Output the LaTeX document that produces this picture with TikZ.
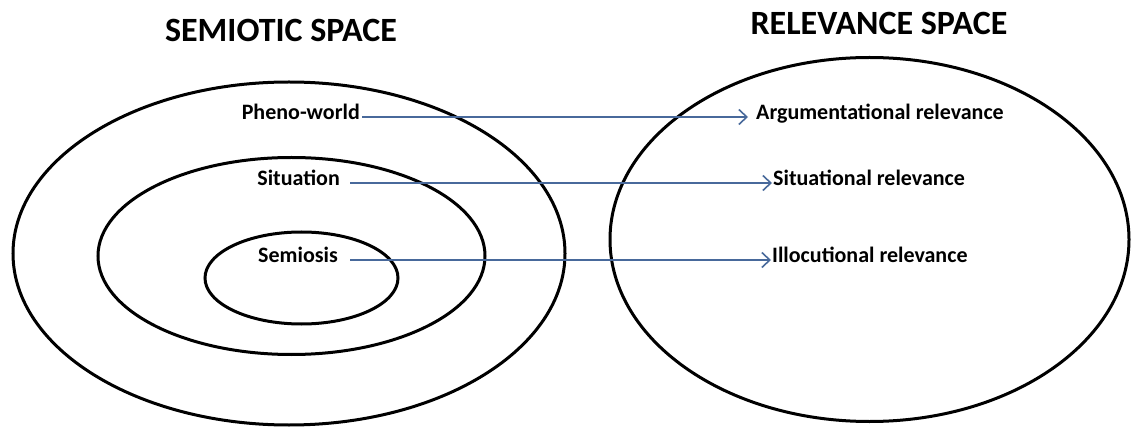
\documentclass[tikz,border=0pt]{standalone}
\usepackage{fontspec}
\setmainfont{Carlito}
\usetikzlibrary{arrows.meta,shapes.geometric}
\definecolor{arrowblue}{RGB}{72,105,155}
\tikzset{
  ring/.style={draw=black, line width=3pt, ellipse, inner sep=0pt, fill=none},
  lbl/.style={font=\fontsize{22}{26}\selectfont\bfseries, inner sep=0pt, text height=0.7em, text depth=0.2em},
  ttl/.style={font=\fontsize{34}{40}\selectfont\bfseries, inner sep=0pt},
  link/.style={draw=arrowblue, line width=1.6pt, -{Straight Barb[length=8pt,width=15pt]}}
}
\begin{document}
\begin{tikzpicture}[x=1pt,y=-1pt]
\useasboundingbox[fill=white] (0,0) rectangle (1132,430);
% titles
\node[ttl] (t1) at (281,30) {SEMIOTIC SPACE};
\node[ttl] (t2) at (879,23) {RELEVANCE SPACE};
% ellipses
\node[ring, minimum width=552pt, minimum height=343pt] (outer) at (289,253.5) {};
\node[ring, minimum width=387pt, minimum height=197pt] (middle) at (291.5,256) {};
\node[ring, minimum width=193pt, minimum height=92pt] (inner) at (301.5,278) {};
\node[ring, minimum width=519pt, minimum height=364pt] (rel) at (869.5,239.5) {};
% left labels
\node[lbl, anchor=east] (pheno) at (360,117) {Pheno-world};
\node[lbl, anchor=east] (sit) at (340,183) {Situation};
\node[lbl, anchor=east] (sem) at (338,260) {Semiosis};
% right labels
\node[lbl, anchor=west] (arg) at (756,117) {Argumentational relevance};
\node[lbl, anchor=west] (sitrel) at (773,183) {Situational relevance};
\node[lbl, anchor=west] (ill) at (772,260) {Illocutional relevance};
% arrows
\draw[link, shorten <=2pt, shorten >=8pt] (pheno.east) -- (arg.west);
\draw[link, shorten <=10pt, shorten >=1pt] (sit.east) -- (sitrel.west);
\draw[link, shorten <=12pt, shorten >=1pt] (sem.east) -- (ill.west);
\end{tikzpicture}
\end{document}
